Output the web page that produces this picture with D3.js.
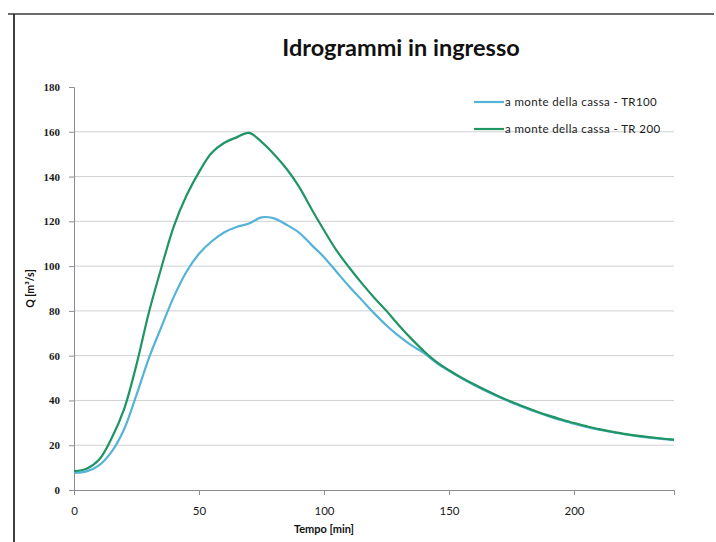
<!DOCTYPE html>
<html>
<head>
<meta charset="utf-8">
<script src="https://cdn.jsdelivr.net/npm/d3@7"></script>
<style>
  body { margin: 0; background: #fff; }
</style>
</head>
<body>
<div class="chart"></div>
<script>
// time steps [min]
const tempo = [0,5,10,15,20,25,30,35,40,45,50,55,60,65,70,75,80,85,90,95,100,105,110,115,120,
  125,130,135,140,145,150,155,160,165,170,175,180,185,190,195,200,205,210,215,220,225,230,235,240];

// a monte della cassa - TR100
const tr100 = [7.6,8.3,11,17,27,42.5,59,73,86.5,97.5,105.5,111,115,117.5,119,121.8,121.3,118.5,115,109.5,104,97.5,91,85,79,
  73.5,68.7,64.6,61.2,56.8,53.2,49.9,46.9,44.1,41.5,39.1,36.9,34.8,32.9,31.2,29.6,28.2,27,25.9,24.9,24.1,23.4,22.8,22.3];

// a monte della cassa - TR 200
const tr200 = [8.4,9.5,13.5,23,36,56,79.5,99.5,118,131.5,142,150.5,155,157.5,159.5,155.5,150,143.5,135.5,125.5,116,107,99.5,92.5,86,
  80,73.5,67.5,62,57.2,53.5,50.2,47.2,44.4,41.8,39.4,37.2,35.1,33.2,31.5,29.9,28.5,27.2,26.1,25.1,24.3,23.6,23,22.5];

const xTicks = [0,50,100,150,200];
const yTicks = [0,20,40,60,80,100,120,140,160,180];

const seriesNames = ["a monte della cassa - TR100", "a monte della cassa - TR 200"];
const seriesColors = ["#55b3d8", "#1f9563"];

const W = 716, H = 542;
const margin = {top: 87, right: 42, bottom: 52, left: 74};
const width = W - margin.left - margin.right,
    height = H - margin.top - margin.bottom;

const root = d3.select(".chart").append("svg")
    .attr("width", W)
    .attr("height", H)
    .style("font-family", "Lato, 'Open Sans', sans-serif");

// scanned page frame
root.append("line").attr("x1", 8).attr("x2", 714).attr("y1", 14).attr("y2", 14)
    .attr("stroke", "#3a3a3a").attr("stroke-width", 1.5);
root.append("line").attr("x1", 14).attr("x2", 14).attr("y1", 14).attr("y2", H)
    .attr("stroke", "#2a2a2a").attr("stroke-width", 1.8);

root.append("text")
    .text("Idrogrammi in ingresso")
    .attr("x", 401)
    .attr("y", 56)
    .attr("text-anchor", "middle")
    .attr("font-size", 23.5)
    .attr("font-weight", "bold")
    .attr("fill", "#111");

const svg = root.append("g")
    .attr("transform", "translate(" + margin.left + "," + margin.top + ")");

const xScale = d3.scaleLinear().domain([0, 240]).range([0, width]);
const yScale = d3.scaleLinear().domain([0, 180]).range([height, 0]);

// gridlines
svg.append("g")
    .selectAll("line")
    .data(yTicks.filter(d => d > 0 && d < 180))
    .join("line")
    .attr("x1", 0)
    .attr("x2", width)
    .attr("y1", d => yScale(d))
    .attr("y2", d => yScale(d))
    .attr("stroke", "#cfd0d4")
    .attr("stroke-width", 1);

const xAxis = d3.axisBottom(xScale)
    .tickValues(xTicks)
    .tickSize(5)
    .tickPadding(12);

const yAxis = d3.axisLeft(yScale)
    .tickValues(yTicks)
    .tickSize(5)
    .tickPadding(9);

const gx = svg.append("g")
    .attr("class", "xAxis")
    .attr("transform", `translate(0, ${height})`)
    .call(xAxis);

const gy = svg.append("g")
    .attr("class", "yAxis")
    .call(yAxis);

[gx, gy].forEach(g => {
    g.select(".domain").attr("stroke", "#8a8d98");
    g.selectAll(".tick line").attr("stroke", "#8a8d98");
    g.selectAll(".tick text")
        .attr("fill", "#1a1a1a")
        .attr("font-size", 11.5)
        .style("font-family", "Lato, sans-serif");
});
gy.selectAll(".tick text")
    .style("font-family", "'Liberation Serif', serif")
    .attr("font-weight", "bold")
    .attr("font-size", 11);

// axis titles
svg.append("text")
    .text("Tempo [min]")
    .attr("x", xScale(100))
    .attr("y", height + 43)
    .attr("text-anchor", "middle")
    .attr("font-size", 11)
    .attr("font-weight", "bold")
    .attr("fill", "#111");

svg.append("text")
    .text("Q [m³/s]")
    .attr("transform", "translate(" + (-40) + "," + yScale(90) + ") rotate(-90)")
    .attr("text-anchor", "middle")
    .attr("font-size", 10.5)
    .attr("font-weight", "bold")
    .attr("fill", "#111");

// lines
const line = d3.line()
    .x((d, i) => xScale(tempo[i]))
    .y(d => yScale(d))
    .curve(d3.curveCatmullRom.alpha(0.5));

[tr100, tr200].forEach((s, k) => {
    svg.append("path")
        .datum(s)
        .attr("fill", "none")
        .attr("stroke", seriesColors[k])
        .attr("stroke-width", 2.2)
        .attr("stroke-linejoin", "round")
        .attr("d", line);
});

// legend
const legend = svg.append("g")
    .attr("transform", "translate(" + (474 - margin.left) + "," + (102 - margin.top) + ")");

seriesNames.forEach((name, k) => {
    const row = legend.append("g").attr("transform", "translate(0," + (k * 27) + ")");
    row.append("line")
        .attr("x1", 0).attr("x2", 30)
        .attr("y1", 0).attr("y2", 0)
        .attr("stroke", seriesColors[k])
        .attr("stroke-width", 2.2);
    row.append("text")
        .text(name)
        .attr("x", 31)
        .attr("y", 4)
        .attr("font-size", 11.5)
        .attr("letter-spacing", 0.4)
        .attr("fill", "#1a1a1a");
});
</script>
</body>
</html>
